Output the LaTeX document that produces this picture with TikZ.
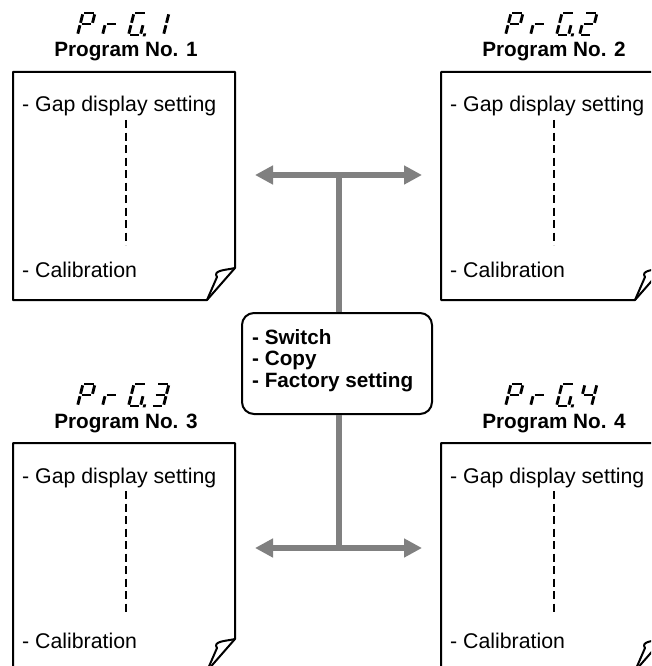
\documentclass[tikz,border=0pt]{standalone}
\usepackage{fontspec}
\setmainfont{Liberation Sans}
\usetikzlibrary{arrows.meta, positioning}
\definecolor{barcolor}{RGB}{128,128,128}

% seven segment pieces, cell 12 x 22
\newcommand\sega{\draw[segline] (1.3,0) -- (10.7,0);}
\newcommand\segb{\draw[segline] (12,1.3) -- (12,9.8);}
\newcommand\segc{\draw[segline] (12,12.2) -- (12,20.7);}
\newcommand\segd{\draw[segline] (1.3,22) -- (10.7,22);}
\newcommand\sege{\draw[segline] (0,12.2) -- (0,20.7);}
\newcommand\segf{\draw[segline] (0,1.3) -- (0,9.8);}
\newcommand\segg{\draw[segline] (1.3,11) -- (10.7,11);}
\newcommand\segdot{\fill (14.5,20.4) rectangle (17.3,23.4);}
\newcommand\segdigit[3]{\begin{scope}[shift={(#1,#2)}, xslant=0.25] #3 \end{scope}}

\begin{document}
\begin{tikzpicture}[x=1pt, y=-1pt,
    sheet/.style={draw, line width=2pt, line join=round},
    segline/.style={line width=2.8pt},
    gapline/.style={draw, line width=1.5pt, dash pattern=on 8pt off 4.5pt},
    itemtext/.style={inner sep=0pt, font=\fontsize{21.3}{24}\selectfont},
    titletext/.style={inner sep=0pt, font=\fontsize{20.7}{24}\selectfont\bfseries},
    menubox/.style={draw, line width=2pt, rounded corners=12pt, minimum width=190pt, minimum height=101pt},
    menutext/.style={inner sep=0pt, align=left, font=\fontsize{20.7}{21.5}\selectfont\bfseries},
    barstem/.style={draw=barcolor, line width=6pt},
    bararrow/.style={barstem, {Triangle[length=18pt,width=18pt]}-{Triangle[length=18pt,width=18pt]}}]
  \useasboundingbox[fill=white] (0,0) rectangle (651,666);
  \clip (0,0) rectangle (651,666);

  % the four program sheets
  \foreach \n/\x/\y/\dig in {1/0/0/{\segb\segc}, 2/428/0/{\sega\segb\segg\sege\segd},
                             3/0/371/{\sega\segb\segg\segc\segd}, 4/428/371/{\segf\segg\segb\segc}} {
    \begin{scope}[shift={(\x,\y)}]
      \draw[sheet] (13,72) -- (235,72) -- (235,268) -- (207,300) -- (13,300) -- cycle;
      \draw[sheet] (207,300) -- (217,277) .. controls (212,270) and (227,270) .. (235,268);
      \segdigit{83}{13}{\sega\segb\segf\segg\sege}
      \segdigit{108}{13}{\sege\segg}
      \segdigit{134}{13}{\sega\segf\sege\segd\segc\segdot}
      \segdigit{157}{13}{\dig}
      \node[titletext, anchor=base] (title\n) at (126,57) {Program No. \n};
      \node[itemtext, anchor=base west] (gap\n) at (22,112) {- Gap display setting};
      \node[itemtext, anchor=base west] (cal\n) at (22,277) {- Calibration};
      \coordinate (dtop\n) at (126,120);
      \coordinate (dbot\n) at (126,245);
      \draw[gapline] (dtop\n) -- (dbot\n);
    \end{scope}
  }

  % central menu
  \node[menubox] (menu) at (337,363.5) {};
  \node[menutext, anchor=north west] (menutxt) at (252,329) {- Switch\\- Copy\\- Factory setting};

  \coordinate (upjoin) at (338.5,175);
  \coordinate (upleft) at (255,175);
  \coordinate (upright) at (422,175);
  \coordinate (lowjoin) at (338.5,548);
  \coordinate (lowleft) at (255,548);
  \coordinate (lowright) at (422,548);

  \draw[barstem] (menu.north -| upjoin) -- (upjoin);
  \draw[barstem] (menu.south -| lowjoin) -- (lowjoin);
  \draw[bararrow] (upleft) -- (upright);
  \draw[bararrow] (lowleft) -- (lowright);
\end{tikzpicture}
\end{document}
